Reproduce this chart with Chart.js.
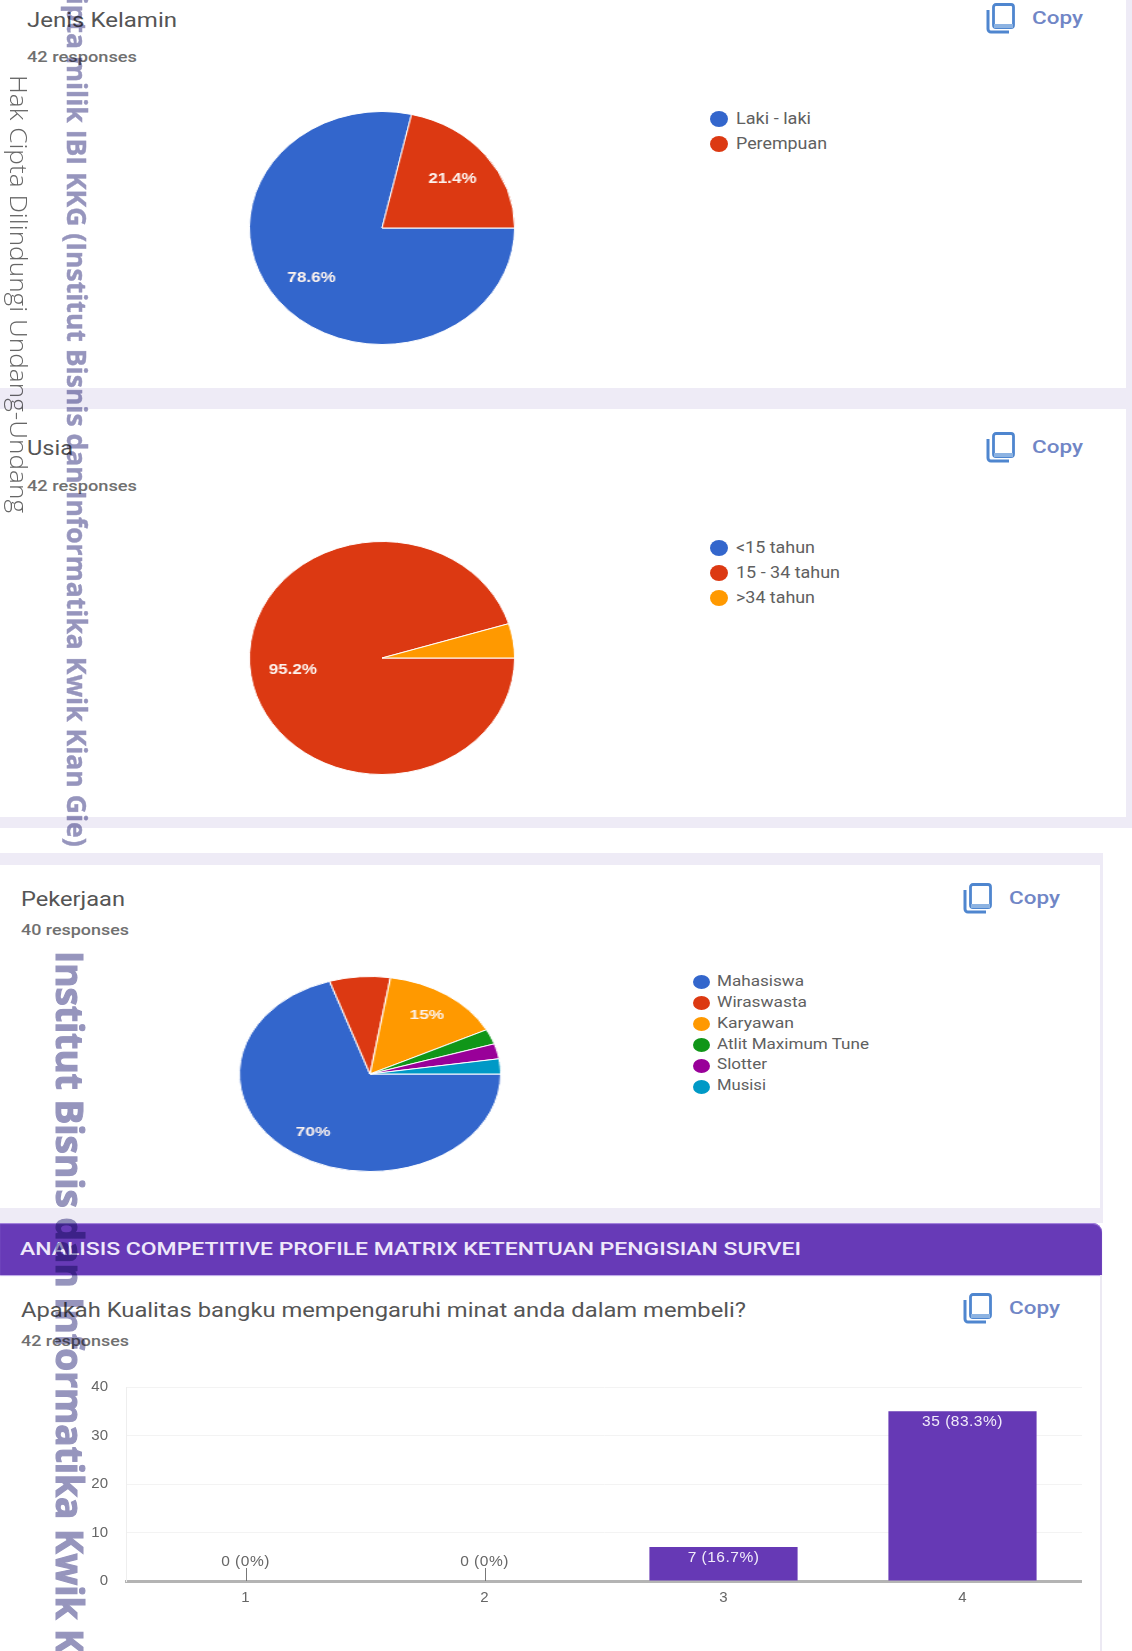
<!DOCTYPE html>
<html><head><meta charset="utf-8">
<script src="https://cdn.jsdelivr.net/npm/chart.js@4"></script>
<style>
html,body{margin:0;padding:0;background:#fff}
#page{position:relative;width:1132px;height:1651px;overflow:hidden;background:#fff;filter:blur(.65px)}
.box{position:absolute}
.t{position:absolute;white-space:nowrap;transform-origin:0 50%;font-family:Roboto,"Liberation Sans",sans-serif;line-height:1}
canvas{position:absolute;display:block}
.dot{position:absolute;border-radius:50%}
.wm{position:absolute;white-space:nowrap;transform-origin:0 0;line-height:1;mix-blend-mode:multiply}
</style></head><body><div id="page"></div>
<script>
/* ---- data ---- */
const genderLabels=["Laki - laki","Perempuan"];
const genderValues=[33,9];
const ageLabels=["<15 tahun","15 - 34 tahun",">34 tahun"];
const ageValues=[0,40,2];
const jobLabels=["Mahasiswa","Wiraswasta","Karyawan","Atlit Maximum Tune","Slotter","Musisi"];
const jobValues=[28,3,6,1,1,1];
const qualityLabels=["1","2","3","4"];
const qualityValues=[0,0,7,35];
const qualityTicks=[0,10,20,30,40];
const pieColors=["#3366cc","#dc3912","#ff9900","#109618","#990099","#0099c6"];
const barColor="#6639b5";

const page=document.getElementById('page');
const LAV="#eeebf6";
function box(x,y,w,h,c,extra){const d=document.createElement('div');d.className='box';
  d.style.cssText=`left:${x}px;top:${y}px;width:${w}px;height:${h}px;background:${c};${extra||''}`;page.appendChild(d);return d;}
const mctx=document.createElement('canvas').getContext('2d');
function T(s,x,yc,target,size,color,weight,fam){const d=document.createElement('div');d.className='t';d.textContent=s;
  d.style.left=x+'px';d.style.top=(yc-size/2)+'px';d.style.fontSize=size+'px';d.style.color=color;d.style.fontWeight=weight||400;
  if(fam)d.style.fontFamily=fam;page.appendChild(d);
  const w=d.getBoundingClientRect().width;d.style.transform=`scaleX(${target/w})`;return d;}
function copy(x,y){const ns='http://www.w3.org/2000/svg';const s=document.createElementNS(ns,'svg');
  s.setAttribute('width',30);s.setAttribute('height',32);s.setAttribute('viewBox','0 0 30 32');
  s.style.cssText=`position:absolute;left:${x}px;top:${y}px`;
  s.innerHTML='<path d="M10 2.5h15a2.5 2.5 0 0 1 2.5 2.5v18a2.5 2.5 0 0 1-2.5 2.5H10a2.5 2.5 0 0 1-2.5-2.5V5A2.5 2.5 0 0 1 10 2.5z" fill="#fff" stroke="#4f86cf" stroke-width="2.8"/><path d="M2 8v19a3 3 0 0 0 3 3h18" fill="none" stroke="#4f86cf" stroke-width="3"/><rect x="8" y="22" width="19" height="4" fill="#8db3e2"/>';
  page.appendChild(s);
  T('Copy',x+46,y+15,51,19,'#7086c6',500);}
function legend(labels,x,ys,tx,rx,ry,size,fit){labels.forEach((l,i)=>{
  const d=document.createElement('div');d.className='dot';
  d.style.cssText=`left:${x-rx}px;top:${ys[i]-ry}px;width:${2*rx}px;height:${2*ry}px;background:${pieColors[i]}`;page.appendChild(d);
  T(l,tx,ys[i],fit[i],size,'#606060',400);});}

/* ---- page background ---- */
box(0,0,1132,388,"#fff");
box(1126,0,6,409,LAV);
box(0,388,1132,21,LAV);
box(1126,409,6,408,LAV);
box(0,817,1132,11,LAV);
box(0,853,1103,12,LAV);
box(1100,865,3,343,LAV);
box(0,1208,1103,15,LAV);
box(0,1223,1102,52,"#673ab7","border-top-right-radius:9px;box-shadow:inset 0 1px 1px #a98ae0,0 1px 1px #b9a2e6");
box(1100,1275,2,376,"#ece9f3");

/* ---- headers ---- */
T('Jenis Kelamin',27,20,150,21,'#555',400);
T('42 responses',27,57,110,15,'#707070',500);
copy(986,2);
T('Usia',27,448,46,21,'#555',400);
T('42 responses',27,486,110,15,'#707070',500);
copy(986,431);
T('Pekerjaan',21,899,104,20,'#555',400);
T('40 responses',21,930,108,14,'#707070',500);
copy(963,882);
T('ANALISIS COMPETITIVE PROFILE MATRIX KETENTUAN PENGISIAN SURVEI',19.5,1249,781,18,'#efe8fa',500);
T('Apakah Kualitas bangku mempengaruhi minat anda dalam membeli?',21,1310,725,20,'#555',400);
T('42 responses',21,1341,108,14,'#707070',500);
copy(963,1292);

/* ---- legends ---- */
legend(genderLabels,719,[119,144],736,9,8,16,[75,91]);
legend(ageLabels,719,[547.5,572.5,597.5],736,9,8,16,[79,104,79]);
legend(jobLabels,701,[982,1003,1024,1045,1065.5,1086.5],717,8.5,7,14.5,[87,90,77,152,50,49]);

/* ---- pie charts ---- */
const pieLabelPlugin={id:'pieLabels',afterDatasetsDraw(ch,args,o){
  const c=ch.ctx,m=ch.getDatasetMeta(0),vals=ch.data.datasets[0].data,tot=vals.reduce((a,b)=>a+b,0);
  c.save();c.fillStyle=o.color||'#fff';c.font=o.font;c.textAlign='center';c.textBaseline='middle';
  m.data.forEach((a,i)=>{const f=vals[i]/tot;if(f<o.min)return;
    const p=a.getProps(['x','y','startAngle','endAngle','outerRadius'],true);
    const mid=(p.startAngle+p.endAngle)/2,r=p.outerRadius*o.r;
    const s=(Math.round(f*1000)/10)+'%';
    c.fillText(s,p.x+Math.cos(mid)*r,p.y+Math.sin(mid)*r);});
  c.restore();}};
function pie(labels,values,cx,cy,rx,ry,font,lr){
  const size=2*ry+2;const cv=document.createElement('canvas');
  cv.width=size;cv.height=size;cv.style.cssText=`left:${cx-size/2}px;top:${cy-size/2}px;width:${size}px;height:${size}px;transform:scaleX(${rx/ry});transform-origin:50% 50%`;
  page.appendChild(cv);
  new Chart(cv,{type:'pie',plugins:[pieLabelPlugin],data:{labels,datasets:[{data:values,backgroundColor:pieColors.slice(0,labels.length),borderColor:'#fff',borderWidth:1,hoverOffset:0}]},
    options:{responsive:false,animation:false,rotation:90,layout:{padding:0},
      plugins:{legend:{display:false},tooltip:{enabled:false},pieLabels:{font,r:lr,min:.1,color:'#fdf3ee'}}}});
}
pie(genderLabels,genderValues,382,228,132,116,'bold 15px "Liberation Sans"',.68);
pie(ageLabels,ageValues,382,657.5,132,116,'bold 15px "Liberation Sans"',.68);
pie(jobLabels,jobValues,369.5,1074,130,97,'bold 13px "Liberation Sans"',.74);

/* ---- bar chart ---- */
const barLabelPlugin={id:'barLabels',afterDatasetsDraw(ch){
  const c=ch.ctx,m=ch.getDatasetMeta(0),vals=ch.data.datasets[0].data,tot=vals.reduce((a,b)=>a+b,0),y0=ch.scales.y.getPixelForValue(0);
  c.save();c.font='15.5px "Liberation Sans"';c.letterSpacing='0.5px';c.textAlign='center';c.textBaseline='middle';
  m.data.forEach((b,i)=>{const v=vals[i],s=`${v} (${Math.round(v/tot*1000)/10}%)`;
    if(v===0){c.strokeStyle='#777';c.lineWidth=1;c.beginPath();c.moveTo(Math.round(b.x)+.5,y0);c.lineTo(Math.round(b.x)+.5,y0-13);c.stroke();
      c.fillStyle='#666';c.fillText(s,b.x,y0-19);}
    else{c.fillStyle='#f1ecfa';c.fillText(s,b.x,b.y+10.5);}});
  c.restore();}};
const bc=document.createElement('canvas');bc.width=992;bc.height=280;
bc.style.cssText='left:90px;top:1360px;width:992px;height:280px';page.appendChild(bc);
new Chart(bc,{type:'bar',plugins:[barLabelPlugin],data:{labels:qualityLabels,datasets:[{data:qualityValues,backgroundColor:barColor,categoryPercentage:1,barPercentage:.62}]},
  options:{responsive:false,animation:false,layout:{padding:{top:15,left:0,right:0,bottom:0}},
    plugins:{legend:{display:false},tooltip:{enabled:false}},
    scales:{
      x:{grid:{display:false,drawTicks:false},border:{color:'#b4b4b4',width:3},
         ticks:{color:'#666',padding:8,font:{size:15,family:'"Liberation Sans"'}},afterFit(s){s.height=59;}},
      y:{min:0,max:40,afterBuildTicks(s){s.ticks=qualityTicks.map(v=>({value:v}));},
         grid:{color:'#f3f3f3',lineWidth:1,drawTicks:false},border:{color:'#eeeeee',width:1},
         ticks:{color:'#666',padding:18,font:{size:15,family:'"Liberation Sans"'}},afterFit(s){s.width=36;}}
    }}});

/* ---- rotated watermarks ---- */
function wm(text,xc,font,color,ref,refLen,anchor,stroke){
  mctx.font=font;const k=refLen/mctx.measureText(ref).width,full=mctx.measureText(text).width*k;
  const y=anchor.start!==undefined?anchor.start:anchor.end-full;
  const d=document.createElement('div');d.className='wm';d.textContent=text;
  d.style.font=font;d.style.color=color;d.style.lineHeight='1';d.style.left=xc+'px';d.style.top=y+'px';
  if(stroke)d.style.webkitTextStroke=stroke+'px '+color;
  d.style.transform=`rotate(90deg) scaleX(${k}) translateY(-50%)`;page.appendChild(d);}
wm('Hak Cipta Dilindungi Undang-Undang',19,'300 24px "Open Sans"','#666','Hak Cipta Dilindungi Undang-Undang',438,{start:75});
wm('Hak Cipta milik IBI KKG (Institut Bisnis dan Informatika Kwik Kian Gie)',77,'700 26px "Open Sans"','#9695bd','IBI KKG (Institut Bisnis dan Informatika Kwik Kian Gie)',717,{end:847},.4);
wm('Institut Bisnis dan Informatika Kwik Kian Gie',71,'700 38px "Open Sans"','#9695bd','Institut Bisnis',257,{start:951},1.2);
</script></body></html>
